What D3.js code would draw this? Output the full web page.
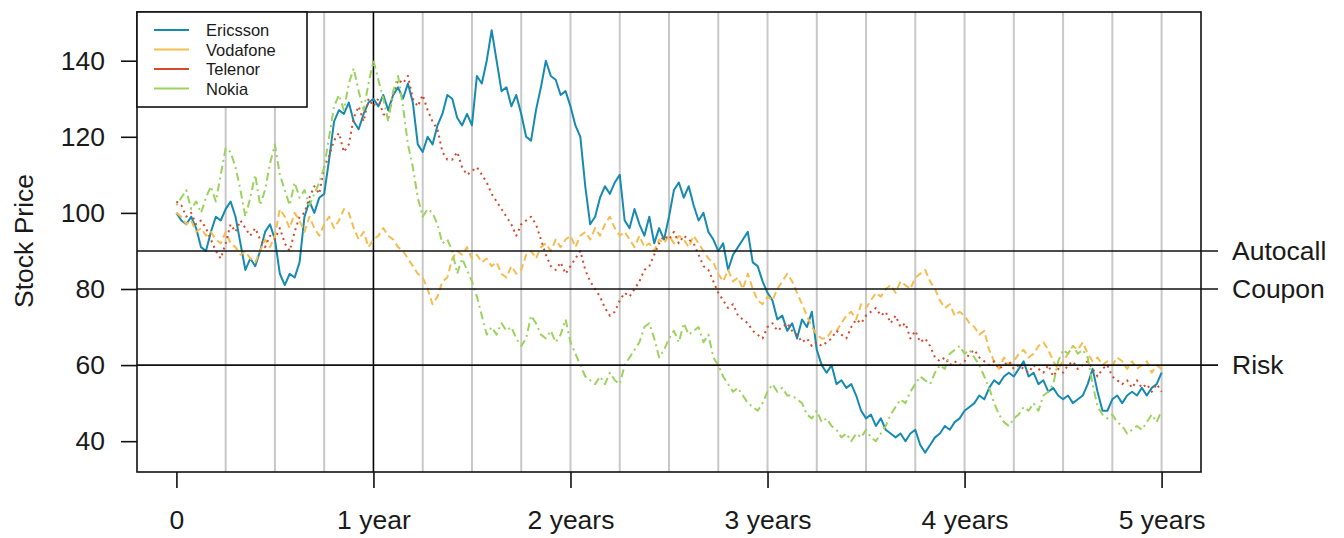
<!DOCTYPE html>
<html>
<head>
<meta charset="utf-8">
<script src="https://cdn.jsdelivr.net/npm/d3@7"></script>
<style>
  html, body { margin: 0; padding: 0; background: #fff; }
  svg { display: block; }
  text { font-family: "Liberation Sans", Arial, sans-serif; fill: #1a1a1a; }
</style>
</head>
<body>
<svg id="chart" width="1344" height="538"></svg>
<script>
// Simulated share prices, sampled every 0.025 years over five years
const years = d3.range(201).map(i => i * 0.025);

const ericsson = [
  100, 98, 97, 99, 96, 91, 90, 95, 99, 98,
  101, 103, 99, 92, 85, 88, 86, 90, 95, 97,
  93, 84, 81, 84, 83, 87, 99, 103, 100, 104,
  105, 114, 124, 127, 126, 129, 124, 122, 126, 129,
  130, 128, 131, 127, 131, 133, 130, 134, 129, 118,
  116, 120, 118, 123, 126, 131, 130, 125, 123, 126,
  123, 136, 134, 140, 148, 140, 132, 133, 128, 131,
  126, 120, 119, 127, 133, 140, 136, 135, 131, 132,
  128, 123, 120, 107, 97, 99, 104, 107, 105, 108,
  110, 98, 96, 101, 97, 94, 99, 92, 96, 93,
  99, 106, 108, 104, 107, 102, 98, 100, 95, 93,
  90, 92, 85, 89, 91, 93, 95, 87, 86, 82,
  79, 77, 72, 73, 69, 71, 67, 72, 70, 74,
  64, 60, 58, 60, 55, 56, 54, 55, 52, 48,
  46, 47, 44, 46, 43, 42, 41, 42, 40, 42,
  43, 39, 37, 39, 41, 42, 44, 43, 45, 46,
  48, 49, 50, 52, 51, 54, 56, 55, 57, 58,
  57, 59, 61, 57, 58, 55, 56, 53, 54, 52,
  51, 52, 50, 51, 52, 55, 59, 53, 48, 48,
  51, 52, 50, 52, 53, 52, 54, 52, 54, 55,
  58
];

const vodafone = [
  100, 99, 97, 98, 95, 96, 94, 95, 93, 92,
  95, 92, 91, 89, 90, 88, 87, 90, 93, 91,
  94, 101, 99, 96, 100, 98, 95, 99, 96, 94,
  97, 99, 96, 98, 101, 100, 96, 93, 95, 91,
  93, 94, 96, 94, 93, 91, 90, 88, 86, 84,
  83, 80, 76, 78, 82, 83, 88, 90, 89, 91,
  88, 89, 87, 88, 86, 87, 84, 83, 86, 84,
  85, 89, 90, 88, 91, 92, 90, 93, 91, 93,
  94, 91, 94, 95, 93, 96, 94, 97, 99, 96,
  94, 95, 93, 91, 94, 91, 92, 90, 93, 92,
  94, 92, 94, 93, 91, 94, 92, 90, 88, 87,
  84, 82, 85, 82, 83, 80, 84, 80, 77, 76,
  78, 77, 80, 82, 84, 82, 79, 76, 73, 70,
  68, 67, 67, 69, 69, 71, 73, 74, 72, 76,
  75, 77, 79, 78, 80, 81, 79, 82, 81, 80,
  83, 84, 85, 82, 80, 77, 75, 76, 73, 74,
  73, 71, 70, 68, 69, 64, 61, 59, 62, 60,
  61, 63, 64, 62, 63, 65, 66, 64, 61, 59,
  61, 63, 65, 64, 66, 63, 61, 62, 60, 61,
  60, 62, 61, 59, 61, 59, 60, 61, 58, 60,
  59
];

const telenor = [
  103, 102, 99, 100, 97, 98, 96, 93, 90, 88,
  92, 97, 95, 98, 96, 94, 96, 93, 91, 94,
  93, 96, 92, 90, 95, 99, 100, 104, 107, 105,
  112, 115, 119, 121, 116, 118, 125, 128, 124, 130,
  128, 130, 126, 125, 131, 135, 134, 136, 130, 128,
  131, 127, 124, 122, 116, 114, 114, 116, 112, 110,
  111, 112, 110, 108, 105, 103, 101, 99, 97, 94,
  97, 98, 99, 97, 93, 89, 86, 85, 87, 84,
  86, 88, 90, 85, 82, 80, 78, 75, 73, 74,
  77, 79, 78, 80, 82, 85, 86, 89, 92, 94,
  93, 95, 92, 94, 93, 92, 89, 86, 85, 82,
  79, 77, 75, 76, 73, 72, 71, 69, 68, 67,
  70, 71, 69, 70, 71, 69, 68, 66, 67, 65,
  66, 65, 66, 67, 69, 68, 67, 70, 72, 71,
  73, 74, 75, 73, 74, 71, 73, 70, 71, 67,
  69, 66, 67, 65, 62, 61, 62, 60, 61, 60,
  61, 63, 64, 62, 61, 60, 61, 59, 60, 61,
  59, 60, 59, 58, 60, 59, 58, 60, 57, 59,
  58, 60, 61, 59, 60, 61, 59, 57, 59, 60,
  57, 56, 55, 56, 54, 56, 54, 55, 53, 55,
  53
];

const nokia = [
  102, 104, 106, 101, 103, 100, 104, 107, 103, 110,
  117, 116, 112, 106, 99, 104, 110, 102, 106, 113,
  118, 110, 106, 102, 108, 104, 106, 102, 105, 108,
  112, 120, 128, 131, 127, 134, 138, 132, 127, 134,
  140, 135, 130, 124, 132, 136, 128, 118, 112, 104,
  99, 101, 100, 97, 92, 93, 90, 84, 88, 85,
  82, 78, 73, 68, 70, 68, 71, 69, 70, 67,
  65, 67, 73, 71, 68, 67, 69, 66, 68, 72,
  66, 63, 60, 57, 56, 55, 57, 55, 58, 56,
  55, 60, 62, 64, 66, 70, 71, 67, 62, 64,
  67, 69, 66, 71, 68, 69, 70, 66, 68, 62,
  60, 57, 55, 53, 54, 52, 50, 49, 48, 50,
  53, 55, 53, 54, 52, 52, 51, 50, 47, 46,
  48, 45, 46, 44, 43, 41, 42, 40, 42, 41,
  43, 41, 40, 42, 44, 47, 49, 51, 50, 53,
  55, 57, 56, 55, 58, 60, 59, 63, 64, 65,
  63, 64, 62, 60, 57, 54, 50, 47, 45, 44,
  46, 47, 49, 48, 50, 48, 52, 53, 55, 61,
  64, 63, 65, 63, 64, 62, 55, 49, 47, 46,
  47, 45, 44, 42, 43, 44, 43, 45, 47, 45,
  48
];

const seriesNames = ["Ericsson", "Vodafone", "Telenor", "Nokia"];
const seriesValues = [ericsson, vodafone, telenor, nokia];
const seriesColors = ["#168ab0", "#f5bd50", "#d44b2c", "#9bd35e"];
const seriesDash = [null, "7,4", "2,4", "2,4,8,4"];

const yTicks = [40, 60, 80, 100, 120, 140];
const xTicks = [0, 1, 2, 3, 4, 5];
const xTickLabels = ["0", "1 year", "2 years", "3 years", "4 years", "5 years"];
const quarterLines = d3.range(1, 21).map(q => q / 4);
const barrierLevels = [90, 80, 60];
const barrierLabels = ["Autocall", "Coupon", "Risk"];

const plotLeft = 137, plotRight = 1201, plotTop = 12, plotBottom = 472;

const x = d3.scaleLinear().domain([-0.2, 5.2]).range([plotLeft, plotRight]);
const y = d3.scaleLinear().domain([31.9, 152.8]).range([plotBottom, plotTop]);

const svg = d3.select("#chart");

// quarterly gridlines, the first year marked in black
svg.append("g").selectAll("line").data(quarterLines).join("line")
  .attr("x1", d => x(d)).attr("x2", d => x(d))
  .attr("y1", plotTop).attr("y2", plotBottom)
  .attr("stroke", d => d === 1 ? "#000" : "#c8c8c8")
  .attr("stroke-width", d => d === 1 ? 1.6 : 2);

// price paths
const line = d3.line().x((d, i) => x(years[i])).y(d => y(d));
svg.append("g").selectAll("path").data(seriesValues).join("path")
  .attr("d", line)
  .attr("fill", "none")
  .attr("stroke", (d, i) => seriesColors[i])
  .attr("stroke-width", 2)
  .attr("stroke-dasharray", (d, i) => seriesDash[i])
  .attr("stroke-linejoin", "round");

// barrier levels with labels on the right
const barriers = svg.append("g");
barriers.selectAll("line").data(barrierLevels).join("line")
  .attr("x1", plotLeft).attr("x2", plotRight + 17)
  .attr("y1", d => y(d)).attr("y2", d => y(d))
  .attr("stroke", "#111").attr("stroke-width", 1.6);
barriers.selectAll("text").data(barrierLevels).join("text")
  .attr("x", 1232).attr("y", d => y(d))
  .attr("dominant-baseline", "central")
  .attr("font-size", 26.5)
  .text((d, i) => barrierLabels[i]);

// frame
svg.append("rect")
  .attr("x", plotLeft).attr("y", plotTop)
  .attr("width", plotRight - plotLeft).attr("height", plotBottom - plotTop)
  .attr("fill", "none").attr("stroke", "#111").attr("stroke-width", 1.6);

// y axis
const yAxis = svg.append("g")
  .attr("transform", `translate(${plotLeft},0)`)
  .call(d3.axisLeft(y).tickValues(yTicks).tickSize(16).tickPadding(16).tickFormat(d3.format("d")));
yAxis.select(".domain").remove();
yAxis.selectAll(".tick line").attr("stroke", "#111").attr("stroke-width", 1.6);
yAxis.selectAll(".tick text").attr("font-size", 26.5).attr("fill", "#1a1a1a")
  .attr("font-family", "Liberation Sans, Arial, sans-serif");

// x axis
const xAxis = svg.append("g")
  .attr("transform", `translate(0,${plotBottom})`)
  .call(d3.axisBottom(x).tickValues(xTicks).tickSize(16).tickPadding(22)
    .tickFormat((d, i) => xTickLabels[i]));
xAxis.select(".domain").remove();
xAxis.selectAll(".tick line").attr("stroke", "#111").attr("stroke-width", 1.6);
xAxis.selectAll(".tick text").attr("font-size", 26.5).attr("fill", "#1a1a1a")
  .attr("font-family", "Liberation Sans, Arial, sans-serif");

// axis title
svg.append("text")
  .attr("transform", `translate(24,${(y(140) + y(40)) / 2 - 10}) rotate(-90)`)
  .attr("text-anchor", "middle")
  .attr("dominant-baseline", "central")
  .attr("font-size", 26.5)
  .text("Stock Price");

// legend
const legend = svg.append("g");
legend.append("rect")
  .attr("x", plotLeft).attr("y", plotTop).attr("width", 170).attr("height", 95)
  .attr("fill", "#fff").attr("stroke", "#111").attr("stroke-width", 1.6);
const rows = legend.selectAll("g.row").data(seriesNames).join("g")
  .attr("class", "row")
  .attr("transform", (d, i) => `translate(0,${30 + i * 19.5})`);
rows.append("line")
  .attr("x1", 154).attr("x2", 189)
  .attr("stroke", (d, i) => seriesColors[i]).attr("stroke-width", 2);
rows.append("text")
  .attr("x", 206).attr("dominant-baseline", "central")
  .attr("font-size", 16.5)
  .text(d => d);
</script>
</body>
</html>
